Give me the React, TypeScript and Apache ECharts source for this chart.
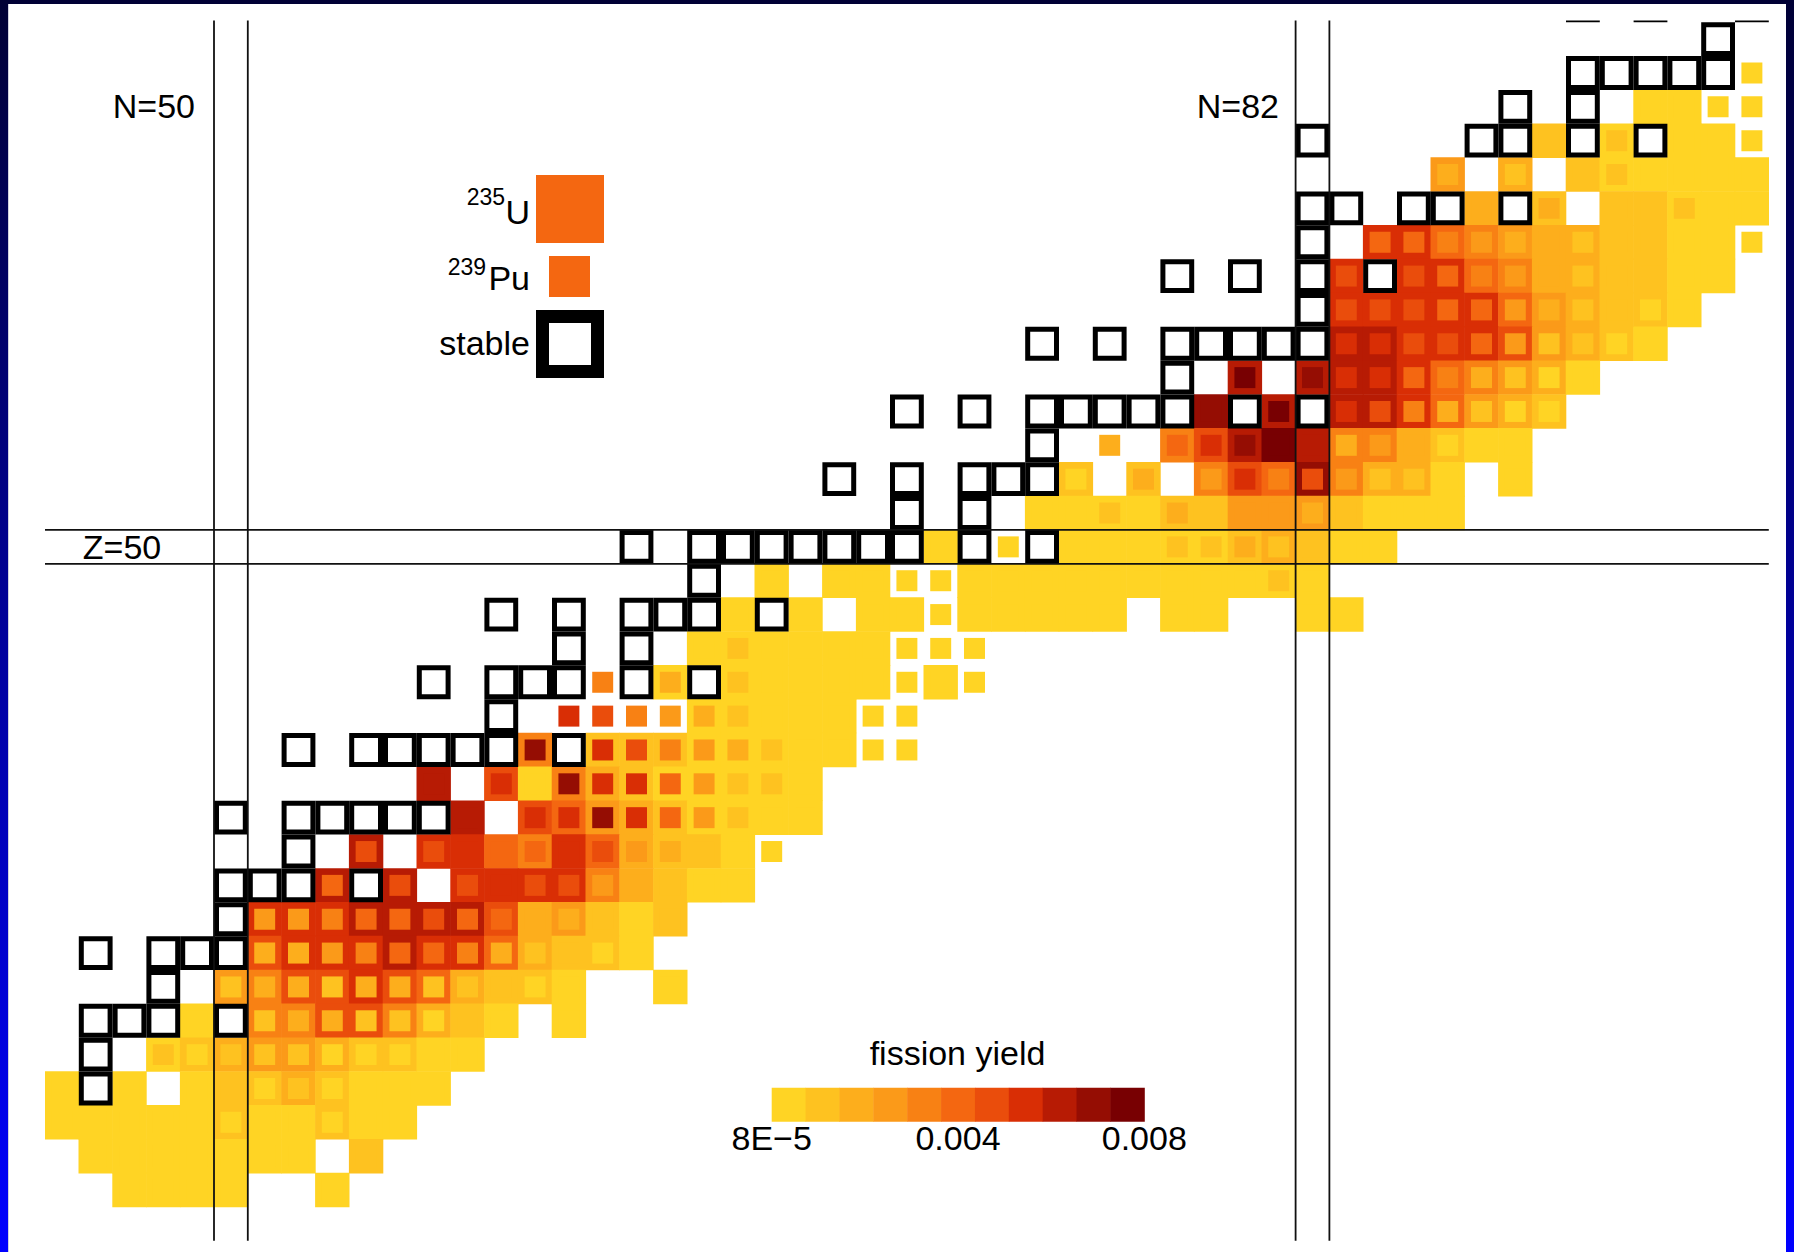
import React, { useEffect, useRef } from "react";
import * as echarts from "echarts";

// ---------------- data ----------------
// 11 colour classes of the fission-yield scale (8E-5 ... 0.008)
const BIN_COLORS = [
  "#FFD424", "#FEC220", "#FDAE1C", "#FB9A19", "#F88114", "#F46711",
  "#EA4D0C", "#D92E05", "#B71B04", "#950D03", "#780002",
];
const YIELD_MIN = 8e-5;
const YIELD_MAX = 0.008;
const COLORBAR_TITLE = "fission yield";
const COLORBAR_LABELS = ["8E\u22125", "0.004", "0.008"];

// axis ranges (neutron number N, proton number Z)
const N_RANGE = [44.5, 95.5];
const Z_RANGE = [29.5, 65.55];
const MAGIC_N = [50, 82];
const MAGIC_Z = [50];

// per Z: "N:u/p" where u = 235U yield class, p = 239Pu yield class (hex digit), "-" = below scale
const YIELD_ROWS: [number, string][] = [
  [64, "95:-/0"],
  [63, "92:0/0 93:0/0 94:-/0 95:-/0"],
  [62, "89:1/1 91:0/1 93:0/0 94:0/0 95:-/0"],
  [61, "86:3/2 88:2/1 90:1/1 91:0/1 92:0/0 93:0/0 94:0/0 95:0/0"],
  [60, "87:2/2 89:1/2 91:1/1 92:1/1 93:0/1 94:0/0 95:0/0"],
  [59, "84:7/5 85:7/5 86:5/4 87:4/3 88:3/2 89:2/2 90:2/1 91:1/1 92:1/1 93:0/0 94:0/0 95:-/0"],
  [58, "83:7/6 85:7/6 86:7/5 87:5/4 88:4/3 89:2/2 90:2/1 91:1/1 92:1/1 93:0/0 94:0/0"],
  [57, "83:7/6 84:7/6 85:7/6 86:7/5 87:7/5 88:5/3 89:3/2 90:2/1 91:1/1 92:1/0 93:0/0"],
  [56, "83:8/7 84:8/7 85:7/6 86:7/6 87:7/5 88:6/3 89:3/1 90:2/1 91:1/0 92:0/0"],
  [55, "80:8/a 82:8/9 83:8/7 84:8/7 85:7/5 86:5/4 87:4/2 88:3/1 89:2/0 90:0/0"],
  [54, "79:9/9 81:8/a 83:8/7 84:8/6 85:7/4 86:5/2 87:3/1 88:2/0 89:1/0"],
  [53, "76:-/2 78:4/5 79:6/7 80:8/9 81:a/a 82:8/8 83:4/2 84:4/3 85:2/2 86:1/0 87:0/0 88:0/0"],
  [52, "75:1/0 77:1/2 79:4/3 80:6/7 81:5/4 82:9/6 83:4/3 84:2/1 85:2/1 86:0/0 88:0/0"],
  [51, "74:0/0 75:0/0 76:0/1 77:0/0 78:1/2 79:1/1 80:3/3 81:3/3 82:3/2 83:1/1 84:0/0 85:0/0 86:0/0"],
  [50, "71:0/0 73:-/0 75:0/0 76:0/0 77:0/0 78:0/1 79:0/1 80:1/2 81:2/1 82:1/1 83:0/0 84:0/0"],
  [49, "66:0/0 68:0/0 69:0/0 70:-/0 71:-/0 72:0/0 73:0/0 74:0/0 75:0/0 76:0/0 77:0/0 78:0/0 79:0/0 80:0/0 81:0/1 82:0/0"],
  [48, "65:0/0 67:0/0 69:0/0 70:0/0 71:-/0 72:0/0 73:0/0 74:0/0 75:0/0 76:0/0 78:0/0 79:0/0 82:0/0 83:0/0"],
  [47, "64:0/0 65:0/1 66:0/0 67:0/0 68:0/0 69:0/0 70:-/0 71:-/0 72:-/0"],
  [46, "61:-/4 63:0/2 65:0/1 66:0/0 67:0/0 68:0/0 69:0/0 70:-/0 71:0/0 72:-/0"],
  [45, "60:-/7 61:-/6 62:-/4 63:-/3 64:0/2 65:0/1 66:0/0 67:0/0 68:0/0 69:-/0 70:-/0"],
  [44, "59:4/9 61:1/7 62:1/6 63:1/4 64:0/3 65:0/2 66:0/1 67:0/0 68:0/0 69:-/0 70:-/0"],
  [43, "56:8/8 58:6/7 59:0/0 60:4/9 61:2/7 62:1/7 63:0/5 64:0/3 65:0/1 66:0/1 67:0/0"],
  [42, "57:8/8 59:6/7 60:5/7 61:3/9 62:2/7 63:1/5 64:0/3 65:0/1 66:0/0 67:0/0"],
  [41, "54:8/6 56:7/6 57:7/7 58:5/5 59:4/5 60:7/7 61:5/6 62:2/3 63:1/2 64:1/1 65:0/0 66:-/0"],
  [40, "53:8/5 55:8/6 57:7/6 58:7/7 59:7/6 60:7/6 61:4/3 62:2/2 63:1/1 64:0/0 65:0/0"],
  [39, "51:7/3 52:7/3 53:7/4 54:8/5 55:8/5 56:8/6 57:8/5 58:6/5 59:2/2 60:3/2 61:1/1 62:0/0 63:1/1"],
  [38, "51:6/2 52:7/2 53:7/3 54:7/4 55:8/5 56:7/5 57:7/4 58:5/2 59:2/1 60:1/1 61:1/0 62:0/0"],
  [37, "50:3/1 51:4/2 52:6/2 53:6/1 54:7/2 55:6/2 56:5/1 57:2/1 58:1/1 59:1/0 60:0/0 63:0/0"],
  [36, "49:0/0 51:4/1 52:4/2 53:6/2 54:6/1 55:4/1 56:2/0 57:1/1 58:0/0 60:0/0"],
  [35, "48:0/1 49:1/0 50:2/1 51:3/1 52:3/1 53:2/0 54:1/0 55:1/0 56:0/0 57:0/0"],
  [34, "45:0/0 47:0/0 49:0/0 50:1/1 51:1/0 52:2/1 53:1/0 54:0/0 55:0/0 56:0/0"],
  [33, "45:0/0 46:0/0 47:0/0 48:0/0 49:0/0 50:1/0 51:0/0 52:0/0 53:1/0 54:0/0 55:0/0"],
  [32, "46:0/0 47:0/0 48:0/0 49:0/0 50:0/0 51:0/0 52:0/0 54:1/1"],
  [31, "47:0/0 48:0/0 49:0/0 50:0/0 53:0/0"],
];

// stable nuclides: per Z the list of N
const STABLE_ROWS: [number, number[]][] = [
  [66, [90, 92, 95]],
  [65, [94]],
  [64, [90, 91, 92, 93, 94]],
  [63, [88, 90]],
  [62, [82, 87, 88, 90, 92]],
  [60, [82, 83, 85, 86, 88]],
  [59, [82]],
  [58, [78, 80, 82, 84]],
  [57, [82]],
  [56, [74, 76, 78, 79, 80, 81, 82]],
  [55, [78]],
  [54, [70, 72, 74, 75, 76, 77, 78, 80, 82]],
  [53, [74]],
  [52, [68, 70, 72, 73, 74]],
  [51, [70, 72]],
  [50, [62, 64, 65, 66, 67, 68, 69, 70, 72, 74]],
  [49, [64]],
  [48, [58, 60, 62, 63, 64, 66]],
  [47, [60, 62]],
  [46, [56, 58, 59, 60, 62, 64]],
  [45, [58]],
  [44, [52, 54, 55, 56, 57, 58, 60]],
  [42, [50, 52, 53, 54, 55, 56]],
  [41, [52]],
  [40, [50, 51, 52, 54]],
  [39, [50]],
  [38, [46, 48, 49, 50]],
  [37, [48]],
  [36, [46, 47, 48, 50]],
  [35, [46]],
  [34, [46]],
];

// ---------------- derived series data ----------------
const BIN_WIDTH = (YIELD_MAX - YIELD_MIN) / BIN_COLORS.length;
const classToYield = (c: string) => YIELD_MIN + (parseInt(c, 16) + 0.5) * BIN_WIDTH;

const u235Data: number[][] = [];
const pu239Data: number[][] = [];
YIELD_ROWS.forEach(([z, row]) => {
  row.split(/\s+/).filter(Boolean).forEach((cell) => {
    const [n, v] = cell.split(":");
    const [u, p] = v.split("/");
    if (u !== "-") u235Data.push([Number(n), z, classToYield(u)]);
    if (p !== "-") pu239Data.push([Number(n), z, classToYield(p)]);
  });
});
const stableData: number[][] = [];
STABLE_ROWS.forEach(([z, ns]) => ns.forEach((n) => stableData.push([n, z])));

const magicLines: number[][] = [];
MAGIC_N.forEach((n) => {
  magicLines.push([n - 0.5, Z_RANGE[0], n - 0.5, Z_RANGE[1]]);
  magicLines.push([n + 0.5, Z_RANGE[0], n + 0.5, Z_RANGE[1]]);
});
MAGIC_Z.forEach((z) => {
  magicLines.push([N_RANGE[0], z - 0.5, N_RANGE[1], z - 0.5]);
  magicLines.push([N_RANGE[0], z + 0.5, N_RANGE[1], z + 0.5]);
});

const FONT = "Liberation Sans";

const cellRenderer = (scale: number, pad: number) => (_p: any, api: any) => {
  const c = api.coord([api.value(0), api.value(1)]);
  const s = api.size([1, 1]);
  const w = s[0] * scale + pad;
  const h = s[1] * scale + pad;
  return {
    type: "rect",
    shape: { x: c[0] - w / 2, y: c[1] - h / 2, width: w, height: h },
    style: { fill: api.visual("color") },
  };
};

const stableRenderer = (_p: any, api: any) => {
  const c = api.coord([api.value(0), api.value(1)]);
  const s = api.size([1, 1]);
  const b = 5;
  return {
    type: "rect",
    shape: { x: c[0] - s[0] / 2 + b / 2, y: c[1] - s[1] / 2 + b / 2, width: s[0] - b, height: s[1] - b },
    style: { fill: "#ffffff", stroke: "#000000", lineWidth: b },
  };
};

const lineRenderer = (_p: any, api: any) => {
  const a = api.coord([api.value(0), api.value(1)]);
  const b = api.coord([api.value(2), api.value(3)]);
  return {
    type: "line",
    shape: { x1: a[0], y1: a[1], x2: b[0], y2: b[1] },
    style: { stroke: "#111111", lineWidth: 1.8 },
  };
};

const txt = (text: string, x: number, y: number, align: string, size = 34) => ({
  type: "text",
  z: 20,
  style: {
    text, x, y, fontSize: size, fontFamily: FONT, fill: "#000000",
    textAlign: align, textVerticalAlign: "middle",
  },
});

export default function App() {
  const ref = useRef<HTMLDivElement>(null);

  useEffect(() => {
    if (!ref.current) return;
    const chart = echarts.init(ref.current, undefined, { renderer: "svg" });

    const barX0 = 771.7;
    const barW = (1144.3 - 771.7) / BIN_COLORS.length;
    const frameGrad = () =>
      new echarts.graphic.LinearGradient(0, 0, 0, 1, [
        { offset: 0, color: "#000035" },
        { offset: 1, color: "#0000FF" },
      ]);

    const graphic: any[] = [
      txt("N=50", 195, 106.2, "right"),
      txt("N=82", 1279, 106.2, "right"),
      txt("Z=50", 122, 546.5, "center"),
      // legend
      { type: "rect", z: 20, shape: { x: 536, y: 175, width: 68, height: 68 }, style: { fill: BIN_COLORS[5] } },
      { type: "rect", z: 20, shape: { x: 549, y: 256, width: 41, height: 41 }, style: { fill: BIN_COLORS[5] } },
      { type: "rect", z: 20, shape: { x: 542.5, y: 316.5, width: 55, height: 55 }, style: { fill: "#fff", stroke: "#000", lineWidth: 13 } },
      txt("U", 530, 211.5, "right"),
      txt("235", 505, 197, "right", 23),
      txt("Pu", 530, 278.2, "right"),
      txt("239", 486, 267, "right", 23),
      txt("stable", 530, 343.2, "right"),
      // colour bar
      txt(COLORBAR_TITLE, 957.5, 1053.2, "center"),
      ...BIN_COLORS.map((color, i) => ({
        type: "rect", z: 20,
        shape: { x: barX0 + i * barW, y: 1087.7, width: barW + 0.5, height: 34 },
        style: { fill: color },
      })),
      txt(COLORBAR_LABELS[0], barX0, 1138.2, "center"),
      txt(COLORBAR_LABELS[1], barX0 + barW * BIN_COLORS.length / 2, 1138.2, "center"),
      txt(COLORBAR_LABELS[2], barX0 + barW * BIN_COLORS.length, 1138.2, "center"),
      // frame
      { type: "rect", z: 30, shape: { x: 0, y: 0, width: 1794, height: 4 }, style: { fill: "#000035" } },
      { type: "rect", z: 30, shape: { x: 0, y: 0, width: 8, height: 1252 }, style: { fill: frameGrad() } },
      { type: "rect", z: 30, shape: { x: 1786, y: 0, width: 8, height: 1252 }, style: { fill: frameGrad() } },
      { type: "line", z: 30, shape: { x1: 8.5, y1: 4, x2: 8.5, y2: 1252 }, style: { stroke: "#d0d0e0", lineWidth: 1 } },
    ];

    chart.setOption({
      animation: false,
      backgroundColor: "#ffffff",
      grid: { left: 45, top: 20.5, width: 1723.8, height: 1220.3 },
      xAxis: { type: "value", min: N_RANGE[0], max: N_RANGE[1], show: false },
      yAxis: { type: "value", min: Z_RANGE[0], max: Z_RANGE[1], show: false },
      visualMap: {
        type: "piecewise",
        show: false,
        seriesIndex: [0, 1],
        dimension: 2,
        pieces: BIN_COLORS.map((color, i) => ({
          gte: YIELD_MIN + i * BIN_WIDTH,
          lt: YIELD_MIN + (i + 1) * BIN_WIDTH,
          color,
        })),
      },
      series: [
        { type: "custom", name: "235U", data: u235Data, clip: true, z: 2, renderItem: cellRenderer(1, 0.6), encode: { x: 0, y: 1 } },
        { type: "custom", name: "239Pu", data: pu239Data, clip: true, z: 3, renderItem: cellRenderer(0.62, 0), encode: { x: 0, y: 1 } },
        { type: "custom", name: "stable", data: stableData, clip: true, z: 4, renderItem: stableRenderer, encode: { x: 0, y: 1 } },
        { type: "custom", name: "magic", data: magicLines, clip: false, z: 5, renderItem: lineRenderer, encode: { x: [0, 2], y: [1, 3] } },
      ],
      graphic,
    });

    return () => chart.dispose();
  }, []);

  return (
    <div
      ref={ref}
      style={{ position: "absolute", left: 0, top: 0, width: 1794, height: 1252, background: "#fff" }}
    />
  );
}
